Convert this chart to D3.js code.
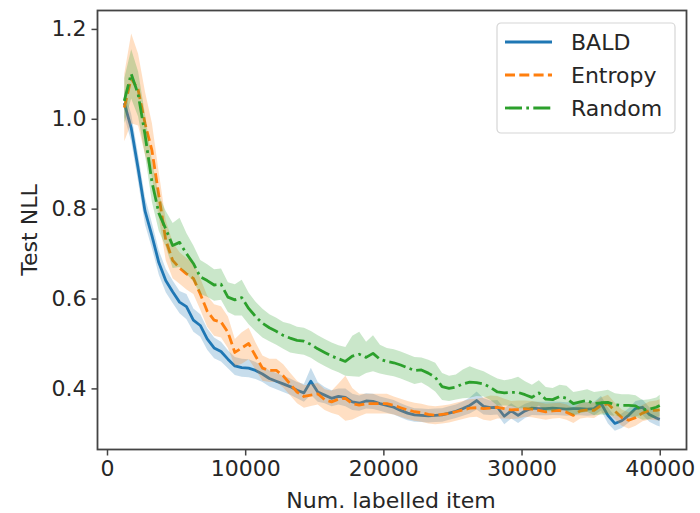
<!DOCTYPE html>
<html>
<head>
<meta charset="utf-8">
<script src="https://cdn.jsdelivr.net/npm/d3@7"></script>
<style>
  body { margin: 0; background: #fff; }
  text { font-family: "DejaVu Sans", sans-serif; fill: #262626; }
</style>
</head>
<body>
<svg class="nllchart" width="700" height="513"></svg>
<script>

// number of labelled items (shared x grid)
var items = [1250, 1750, 2250, 2750, 3250, 3750, 4250, 4750, 5250, 5750,
	6250, 6750, 7250, 7750, 8250, 8750, 9250, 9750, 10250, 10750,
	11250, 11750, 12250, 12750, 13250, 13750, 14250, 14750, 15250, 15750,
	16250, 16750, 17250, 17750, 18250, 18750, 19250, 19750, 20250, 20750,
	21250, 21750, 22250, 22750, 23250, 23750, 24250, 24750, 25250, 25750,
	26250, 26750, 27250, 27750, 28250, 28750, 29250, 29750, 30250, 30750,
	31250, 31750, 32250, 32750, 33250, 33750, 34250, 34750, 35250, 35750,
	36250, 36750, 37250, 37750, 38250, 38750, 39250, 39750, 40000];

var baldMean = [1.035, 0.98, 0.89, 0.795, 0.74, 0.68, 0.64, 0.615, 0.592, 0.582,
	0.552, 0.54, 0.51, 0.49, 0.482, 0.465, 0.45, 0.446, 0.445, 0.44,
	0.432, 0.422, 0.416, 0.41, 0.404, 0.396, 0.39, 0.416, 0.392, 0.385,
	0.378, 0.382, 0.38, 0.37, 0.367, 0.372, 0.371, 0.366, 0.362, 0.358,
	0.351, 0.345, 0.341, 0.34, 0.339, 0.34, 0.341, 0.345, 0.349, 0.355,
	0.362, 0.373, 0.36, 0.357, 0.358, 0.338, 0.35, 0.34, 0.35, 0.356,
	0.355, 0.355, 0.356, 0.355, 0.354, 0.355, 0.355, 0.354, 0.355, 0.367,
	0.34, 0.322, 0.328, 0.34, 0.355, 0.358, 0.342, 0.334, 0.331];
var baldSpread = [0.03, 0.03, 0.03, 0.03, 0.028, 0.027, 0.026, 0.025, 0.025, 0.028,
	0.026, 0.025, 0.024, 0.023, 0.022, 0.02, 0.02, 0.02, 0.02, 0.019,
	0.018, 0.018, 0.018, 0.018, 0.018, 0.018, 0.02, 0.03, 0.022, 0.018,
	0.018, 0.018, 0.02, 0.018, 0.017, 0.017, 0.017, 0.016, 0.016, 0.016,
	0.016, 0.016, 0.015, 0.015, 0.015, 0.015, 0.015, 0.015, 0.015, 0.016,
	0.018, 0.02, 0.018, 0.016, 0.016, 0.018, 0.017, 0.017, 0.016, 0.015,
	0.015, 0.015, 0.015, 0.015, 0.015, 0.015, 0.015, 0.015, 0.015, 0.016,
	0.018, 0.016, 0.016, 0.016, 0.017, 0.017, 0.016, 0.016, 0.016];

var entropyMean = [1.025, 1.09, 1.065, 0.99, 0.93, 0.83, 0.73, 0.685, 0.668, 0.655,
	0.645, 0.61, 0.572, 0.552, 0.548, 0.525, 0.48, 0.49, 0.5, 0.472,
	0.445, 0.44, 0.44, 0.428, 0.41, 0.392, 0.382, 0.385, 0.388, 0.375,
	0.37, 0.376, 0.378, 0.366, 0.363, 0.366, 0.366, 0.366, 0.366, 0.362,
	0.357, 0.352, 0.348, 0.346, 0.342, 0.34, 0.342, 0.344, 0.348, 0.352,
	0.356, 0.357, 0.355, 0.356, 0.358, 0.355, 0.352, 0.353, 0.355, 0.354,
	0.351, 0.348, 0.35, 0.351, 0.347, 0.34, 0.35, 0.352, 0.351, 0.362,
	0.366, 0.35, 0.335, 0.329, 0.335, 0.345, 0.351, 0.351, 0.352];
var entropySpread = [0.075, 0.1, 0.08, 0.07, 0.06, 0.05, 0.045, 0.04, 0.035, 0.035,
	0.035, 0.035, 0.035, 0.035, 0.035, 0.035, 0.03, 0.035, 0.035, 0.03,
	0.028, 0.026, 0.026, 0.026, 0.025, 0.025, 0.025, 0.024, 0.024, 0.023,
	0.025, 0.035, 0.05, 0.035, 0.025, 0.022, 0.022, 0.022, 0.022, 0.02,
	0.02, 0.02, 0.02, 0.02, 0.02, 0.02, 0.02, 0.02, 0.02, 0.02,
	0.02, 0.02, 0.025, 0.028, 0.025, 0.022, 0.02, 0.02, 0.018, 0.018,
	0.018, 0.018, 0.017, 0.017, 0.017, 0.017, 0.017, 0.017, 0.017, 0.018,
	0.02, 0.018, 0.018, 0.018, 0.018, 0.018, 0.02, 0.022, 0.024];

var randomMean = [1.04, 1.10, 1.055, 0.965, 0.86, 0.79, 0.755, 0.718, 0.725, 0.70,
	0.678, 0.648, 0.64, 0.63, 0.632, 0.603, 0.597, 0.602, 0.578, 0.56,
	0.545, 0.535, 0.527, 0.518, 0.512, 0.507, 0.505, 0.498, 0.488, 0.48,
	0.472, 0.466, 0.46, 0.472, 0.476, 0.469, 0.478, 0.465, 0.46, 0.457,
	0.452, 0.446, 0.44, 0.441, 0.434, 0.425, 0.404, 0.40, 0.403, 0.41,
	0.414, 0.413, 0.41, 0.402, 0.392, 0.39, 0.391, 0.391, 0.386, 0.38,
	0.39, 0.376, 0.375, 0.382, 0.378, 0.366, 0.37, 0.373, 0.366, 0.368,
	0.369, 0.364, 0.362, 0.362, 0.361, 0.352, 0.354, 0.358, 0.362];
var randomSpread = [0.05, 0.055, 0.05, 0.045, 0.045, 0.04, 0.04, 0.05, 0.055, 0.045,
	0.04, 0.038, 0.036, 0.035, 0.035, 0.033, 0.035, 0.04, 0.035, 0.033,
	0.032, 0.03, 0.03, 0.03, 0.032, 0.03, 0.03, 0.03, 0.03, 0.03,
	0.03, 0.03, 0.032, 0.045, 0.05, 0.035, 0.04, 0.032, 0.03, 0.03,
	0.03, 0.03, 0.03, 0.028, 0.03, 0.032, 0.03, 0.028, 0.028, 0.032,
	0.035, 0.03, 0.028, 0.028, 0.03, 0.028, 0.03, 0.035, 0.03, 0.028,
	0.028, 0.027, 0.026, 0.026, 0.028, 0.026, 0.025, 0.025, 0.026, 0.026,
	0.028, 0.025, 0.025, 0.025, 0.024, 0.022, 0.022, 0.022, 0.024];

var seriesNames = ["BALD", "Entropy", "Random"];
var seriesColors = ["#1f77b4", "#ff7f0e", "#2ca02c"];
var seriesDash = ["none", "10,4.3", "17,4.3,2.7,4.3"];
var xTicks = [0, 10000, 20000, 30000, 40000];
var yTicks = [0.4, 0.6, 0.8, 1.0, 1.2];

var chart = d3.select(".nllchart"),
		margin = {top: 10.5, right: 13.5, bottom: 63.5, left: 97.5},
		width = chart.attr("width") - margin.left - margin.right,
		height = chart.attr("height") - margin.top - margin.bottom,
		g = chart.append("g").attr("transform", "translate(" + margin.left + "," + margin.top + ")");

var means = [baldMean, entropyMean, randomMean],
		spreads = [baldSpread, entropySpread, randomSpread];

var series = seriesNames.map(function(name, i) {
	return {
		id: name,
		color: seriesColors[i],
		dash: seriesDash[i],
		values: items.map(function(n, j) {
			return {n: n, mean: means[i][j], lo: means[i][j] - spreads[i][j], hi: means[i][j] + spreads[i][j]};
		})
	};
});

// matplotlib style 5% padding on x
var xExt = d3.extent(items), xPad = (xExt[1] - xExt[0]) * 0.05;
var x = d3.scaleLinear().domain([xExt[0] - xPad, xExt[1] + xPad]).range([0, width]),
		y = d3.scaleLinear().domain([0.264, 1.241]).range([height, 0]);

var band = d3.area()
		.x(function(d) { return x(d.n); })
		.y0(function(d) { return y(d.lo); })
		.y1(function(d) { return y(d.hi); });

var line = d3.line()
		.x(function(d) { return x(d.n); })
		.y(function(d) { return y(d.mean); });

var plot = g.append("g");

series.forEach(function(s) {
	plot.append("path")
			.attr("d", band(s.values))
			.attr("fill", s.color)
			.attr("fill-opacity", 0.25);
	plot.append("path")
			.attr("d", line(s.values))
			.attr("fill", "none")
			.attr("stroke", s.color)
			.attr("stroke-width", 2.8)
			.attr("stroke-linejoin", "round")
			.attr("stroke-dasharray", s.dash);
});

// axes
var xAxis = g.append("g")
		.attr("transform", "translate(0," + height + ")")
		.call(d3.axisBottom(x).tickValues(xTicks).tickFormat(d3.format("d")).tickSize(6).tickPadding(5));

var yAxis = g.append("g")
		.call(d3.axisLeft(y).tickValues(yTicks).tickFormat(d3.format(".1f")).tickSize(6).tickPadding(5));

[xAxis, yAxis].forEach(function(a) {
	a.select(".domain").remove();
	a.selectAll(".tick line").attr("stroke", "#444").attr("stroke-width", 1.5);
	a.selectAll(".tick text").style("font-size", "22px").attr("fill", "#262626");
});

g.append("rect")
		.attr("width", width)
		.attr("height", height)
		.attr("fill", "none")
		.attr("stroke", "#444")
		.attr("stroke-width", 1.8);

g.append("text")
		.attr("x", width / 2 - 1)
		.attr("y", height + 58)
		.attr("text-anchor", "middle")
		.style("font-size", "22px")
		.text("Num. labelled item");

g.append("text")
		.attr("transform", "translate(" + (37 - margin.left) + "," + (230 - margin.top) + ") rotate(-90)")
		.attr("text-anchor", "middle")
		.style("font-size", "22px")
		.text("Test NLL");

// legend
var legend = g.append("g")
		.attr("transform", "translate(" + (497 - margin.left) + "," + (23 - margin.top) + ")");

legend.append("rect")
		.attr("width", 178)
		.attr("height", 110)
		.attr("rx", 4)
		.attr("fill", "#fff")
		.attr("fill-opacity", 0.8)
		.attr("stroke", "#d6d6d6")
		.attr("stroke-width", 1.2);

var entry = legend.selectAll(".entry")
		.data(series)
		.enter().append("g")
			.attr("class", "entry")
			.attr("transform", function(d, i) { return "translate(0," + (19 + i * 33) + ")"; });

entry.append("line")
		.attr("x1", 8)
		.attr("x2", 55)
		.attr("stroke", function(d) { return d.color; })
		.attr("stroke-width", 2.8)
		.attr("stroke-dasharray", function(d) { return d.dash; });

entry.append("text")
		.attr("x", 74)
		.attr("dy", "0.36em")
		.style("font-size", "22px")
		.text(function(d) { return d.id; });

</script>
</body>
</html>
